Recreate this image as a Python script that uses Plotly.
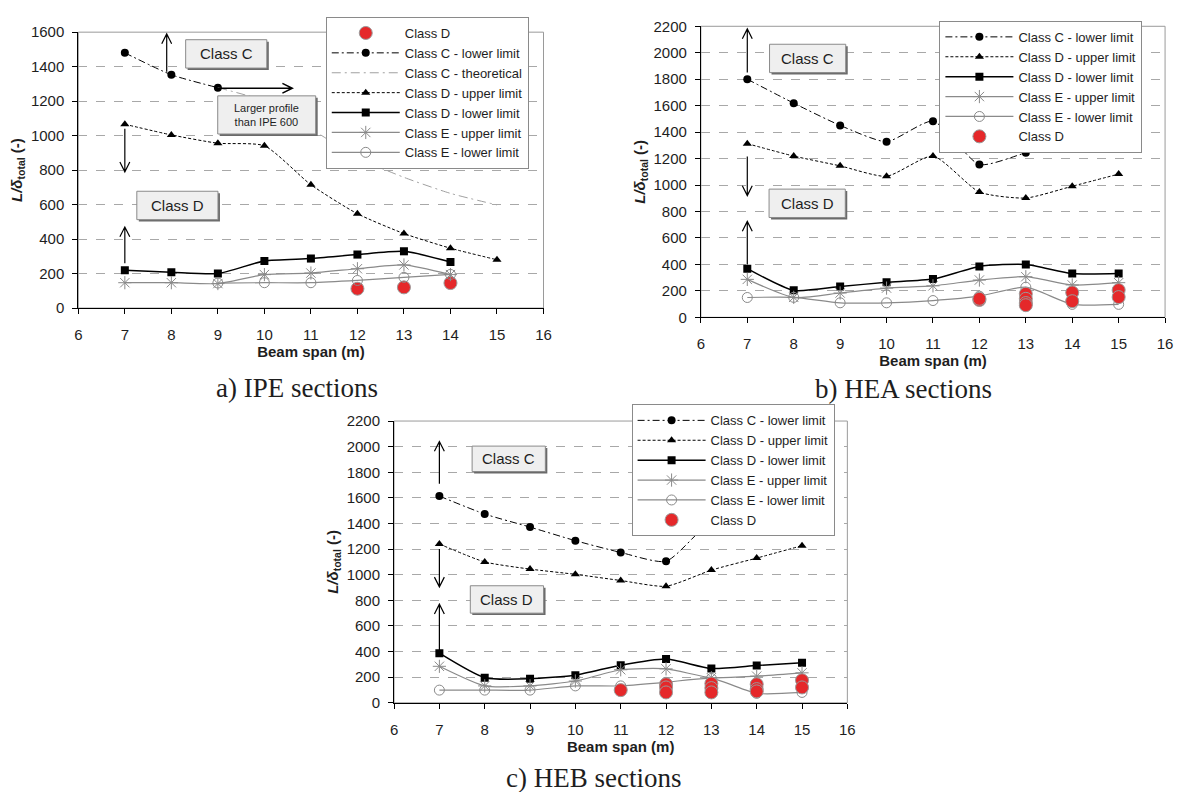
import plotly.graph_objects as go

# ---------------- data ----------------
span = [7, 8, 9, 10, 11, 12, 13, 14, 15]

# a) IPE
ipe_c_lower_x = [7, 8, 9]
ipe_c_lower = [1480, 1353, 1278]
ipe_c_theo_x = [9, 10, 11, 12, 13, 14, 15]
ipe_c_theo = [1278, 1200, 1040, 872, 758, 665, 598]
ipe_d_upper_x = [7, 8, 9, 10, 11, 12, 13, 14, 15]
ipe_d_upper = [1066, 1004, 956, 941, 715, 547, 432, 347, 280]
ipe_d_lower_x = [7, 8, 9, 10, 11, 12, 13, 14]
ipe_d_lower = [219, 208, 200, 273, 287, 310, 329, 267]
ipe_e_upper_x = [7, 8, 9, 10, 11, 12, 13, 14]
ipe_e_upper = [147, 147, 142, 194, 203, 228, 250, 194]
ipe_e_lower_x = [9, 10, 11, 12, 13, 14]
ipe_e_lower = [145, 147, 147, 160, 178, 195]
ipe_d_x = [12, 13, 14]
ipe_d = [112, 120, 145]

# b) HEA
hea_c_lower = [1800, 1619, 1451, 1328, 1483, 1155, 1244, 1342, 1399]
hea_d_upper = [1313, 1219, 1145, 1066, 1219, 947, 902, 991, 1083]
hea_d_lower = [368, 204, 233, 265, 289, 385, 400, 331, 331]
hea_e_upper = [287, 151, 184, 221, 238, 282, 307, 245, 262]
hea_e_lower = [150, 151, 110, 110, 127, 160, 228, 98, 98]
hea_d_x = [12, 12, 13, 13, 13, 13, 14, 14, 15, 15]
hea_d = [131, 140, 178, 140, 108, 92, 188, 122, 206, 153]

# c) HEB
heb_c_lower = [1614, 1474, 1372, 1266, 1174, 1105, 1418, 1520, 1571]
heb_d_upper = [1240, 1100, 1044, 1003, 955, 910, 1036, 1130, 1227]
heb_d_lower = [387, 196, 188, 216, 294, 342, 268, 291, 313]
heb_e_upper = [285, 132, 132, 170, 258, 265, 196, 208, 234]
heb_e_lower = [99, 99, 99, 132, 132, 160, 190, 74, 81]
heb_d_x = [11, 12, 12, 12, 13, 13, 13, 14, 14, 14, 15, 15]
heb_d = [99, 145, 120, 81, 150, 115, 81, 145, 107, 89, 176, 120]

x_ticks = [6, 7, 8, 9, 10, 11, 12, 13, 14, 15, 16]

# ---------------- page geometry ----------------
# The page body has an 8px default margin, so the figure is 16px smaller than the
# window and every reference pixel position is shifted by 8px.
OFF = 8
W, H = 1188 - 2 * OFF, 800 - 2 * OFF

def fx(p):
    return (p - OFF) / W

def fy(p):
    return 1 - (p - OFF) / H

FONT = "Liberation Sans, Arial, sans-serif"
GRAY = "#8a8a8a"
RED = "#e5282a"
TXT = "#1e1e1e"

fig = go.Figure()

def add_series(xa, ya, leg, name, x, y, kind):
    common = dict(x=x, y=y, name=name, xaxis=xa, yaxis=ya, legend=leg,
                  mode="lines+markers")
    if kind == "c_lower":
        fig.add_trace(go.Scatter(**common,
            line=dict(color="black", width=1, dash="7px,3px,2px,3px", shape="spline", smoothing=0.6),
            marker=dict(symbol="circle", size=8, color="black")))
    elif kind == "c_theo":
        common["mode"] = "lines"
        fig.add_trace(go.Scatter(**common,
            line=dict(color="#a0a0a0", width=1, dash="9px,4px,2px,4px", shape="spline", smoothing=0.6)))
    elif kind == "d_upper":
        fig.add_trace(go.Scatter(**common,
            line=dict(color="black", width=1, dash="3px,2px", shape="spline", smoothing=0.6),
            marker=dict(symbol="triangle-up", size=8, color="black")))
    elif kind == "d_lower":
        fig.add_trace(go.Scatter(**common,
            line=dict(color="black", width=1.5, shape="spline", smoothing=0.6),
            marker=dict(symbol="square", size=8, color="black")))
    elif kind == "e_upper":
        fig.add_trace(go.Scatter(**common,
            line=dict(color=GRAY, width=1.2, shape="spline", smoothing=0.6),
            marker=dict(symbol="asterisk-open", size=11, color=GRAY,
                        line=dict(color=GRAY, width=1))))
    elif kind == "e_lower":
        fig.add_trace(go.Scatter(**common,
            line=dict(color=GRAY, width=1.2, shape="spline", smoothing=0.6),
            marker=dict(symbol="circle-open", size=10, color=GRAY,
                        line=dict(color=GRAY, width=1))))
    elif kind == "red":
        common["mode"] = "markers"
        fig.add_trace(go.Scatter(**common,
            marker=dict(symbol="circle", size=13, color=RED,
                        line=dict(color="#9a9a9a", width=1))))

# a) IPE
add_series("x", "y", "legend", "Class D", ipe_d_x, ipe_d, "red")
add_series("x", "y", "legend", "Class C - lower limit", ipe_c_lower_x, ipe_c_lower, "c_lower")
add_series("x", "y", "legend", "Class C - theoretical", ipe_c_theo_x, ipe_c_theo, "c_theo")
add_series("x", "y", "legend", "Class D - upper limit", ipe_d_upper_x, ipe_d_upper, "d_upper")
add_series("x", "y", "legend", "Class D - lower limit", ipe_d_lower_x, ipe_d_lower, "d_lower")
add_series("x", "y", "legend", "Class E - upper limit", ipe_e_upper_x, ipe_e_upper, "e_upper")
add_series("x", "y", "legend", "Class E - lower limit", ipe_e_lower_x, ipe_e_lower, "e_lower")

# b) HEA
add_series("x2", "y2", "legend2", "Class C - lower limit", span, hea_c_lower, "c_lower")
add_series("x2", "y2", "legend2", "Class D - upper limit", span, hea_d_upper, "d_upper")
add_series("x2", "y2", "legend2", "Class D - lower limit", span, hea_d_lower, "d_lower")
add_series("x2", "y2", "legend2", "Class E - upper limit", span, hea_e_upper, "e_upper")
add_series("x2", "y2", "legend2", "Class E - lower limit", span, hea_e_lower, "e_lower")
add_series("x2", "y2", "legend2", "Class D", hea_d_x, hea_d, "red")

# c) HEB
add_series("x3", "y3", "legend3", "Class C - lower limit", span, heb_c_lower, "c_lower")
add_series("x3", "y3", "legend3", "Class D - upper limit", span, heb_d_upper, "d_upper")
add_series("x3", "y3", "legend3", "Class D - lower limit", span, heb_d_lower, "d_lower")
add_series("x3", "y3", "legend3", "Class E - upper limit", span, heb_e_upper, "e_upper")
add_series("x3", "y3", "legend3", "Class E - lower limit", span, heb_e_lower, "e_lower")
add_series("x3", "y3", "legend3", "Class D", heb_d_x, heb_d, "red")

# ---------------- axes layout (reference pixel boxes) ----------------
panels = {
    "a": dict(x0=75, x1=545, top=23.5, bottom=305.5, ymax=1600),
    "b": dict(x0=704, x1=1173, top=17.5, bottom=315, ymax=2200),
    "c": dict(x0=394, x1=852, top=421, bottom=709, ymax=2200),
}
axis_ids = {"a": ("xaxis", "yaxis", "x", "y"),
            "b": ("xaxis2", "yaxis2", "x2", "y2"),
            "c": ("xaxis3", "yaxis3", "x3", "y3")}

ytitle = "<i>L/δ</i><sub>total</sub> (-)"
layout_axes = {}
shapes = []
for k, p in panels.items():
    xa, ya, xr, yr = axis_ids[k]
    layout_axes[xa] = dict(
        domain=[fx(p["x0"]), fx(p["x1"])], anchor=yr, range=[6, 16],
        tickmode="array", tickvals=x_ticks, ticks="outside", ticklen=5,
        tickcolor="black", showline=True, linecolor="black", linewidth=1,
        showgrid=False, zeroline=False, ticklabelstandoff=8,
        tickfont=dict(family=FONT, size=15, color=TXT),
        title=dict(text="Beam span (m)", standoff=2,
                   font=dict(family=FONT, size=15, color=TXT, weight="bold")))
    layout_axes[ya] = dict(
        domain=[fy(p["bottom"]), fy(p["top"])], anchor=xr,
        range=[0, p["ymax"]], dtick=200, ticks="outside", ticklen=5,
        tickcolor="black", showline=True, linecolor="black", linewidth=1,
        showgrid=True, gridcolor="#a8a8a8", griddash="dash", gridwidth=1,
        zeroline=False, ticklabelstandoff=5,
        tickfont=dict(family=FONT, size=15, color=TXT),
        title=dict(text=ytitle, standoff=4,
                   font=dict(family=FONT, size=15, color=TXT, weight="bold")))
    shapes.append(dict(type="rect", xref=f"{xr} domain", yref=f"{yr} domain",
                       x0=0, x1=1, y0=0, y1=1, line=dict(color="#9a9a9a", width=1),
                       layer="below"))

def px_per(k):
    p = panels[k]
    return (p["x1"] - p["x0"]) / 10.0, (p["bottom"] - p["top"]) / p["ymax"]

# ---------------- labelled boxes (with drop shadow) ----------------
annotations = []
def box(k, xc, yc, w, h, text, size=15):
    xr, yr = axis_ids[k][2], axis_ids[k][3]
    sx, sy = px_per(k)
    dx, dy = w / 2 / sx, h / 2 / sy
    ox, oy = 2 / sx, 2 / sy
    shapes.append(dict(type="rect", xref=xr, yref=yr,
                       x0=xc - dx + ox, x1=xc + dx + ox, y0=yc - dy - oy, y1=yc + dy - oy,
                       fillcolor="#6a6a6a", line=dict(width=0)))
    shapes.append(dict(type="rect", xref=xr, yref=yr,
                       x0=xc - dx, x1=xc + dx, y0=yc - dy, y1=yc + dy,
                       fillcolor="#efefef", line=dict(color="#8a8a8a", width=1)))
    annotations.append(dict(xref=xr, yref=yr, x=xc, y=yc, text=text, showarrow=False,
                            xanchor="center", yanchor="middle",
                            font=dict(family=FONT, size=size, color=TXT)))

box("a", 9.18, 1474, 82, 29, "Class C")
box("a", 8.13, 595, 82, 29, "Class D")
box("a", 10.05, 1120, 99, 39, "Larger profile<br>than IPE 600", size=11)
box("b", 8.30, 1957, 77, 29, "Class C")
box("b", 8.29, 862, 77, 29, "Class D")
box("c", 8.53, 1905, 74, 26, "Class C")
box("c", 8.49, 807, 74, 28, "Class D")

# ---------------- arrows ----------------
def v_arrow(k, x, y0, y1):
    xr, yr = axis_ids[k][2], axis_ids[k][3]
    sx, sy = px_per(k)
    d = 1 if y1 > y0 else -1
    hl = 10 / sy
    hw = 5 / sx
    path = (f"M {x},{y0} L {x},{y1} "
            f"M {x - hw},{y1 - d * hl} L {x},{y1} L {x + hw},{y1 - d * hl}")
    shapes.append(dict(type="path", xref=xr, yref=yr, path=path,
                       line=dict(color="black", width=1.2)))

def h_arrow(k, x0, x1, y):
    xr, yr = axis_ids[k][2], axis_ids[k][3]
    sx, sy = px_per(k)
    hl = 10 / sx
    hw = 5 / sy
    path = (f"M {x0},{y} L {x1},{y} "
            f"M {x1 - hl},{y + hw} L {x1},{y} L {x1 - hl},{y - hw}")
    shapes.append(dict(type="path", xref=xr, yref=yr, path=path,
                       line=dict(color="black", width=1.5)))

v_arrow("a", 7.9, 1370, 1590)
v_arrow("a", 7.0, 1040, 790)
v_arrow("a", 7.0, 260, 470)
h_arrow("a", 9.0, 10.6, 1275)

v_arrow("b", 7.0, 1850, 2180)
v_arrow("b", 7.0, 1215, 920)
v_arrow("b", 7.0, 400, 725)

v_arrow("c", 7.0, 1710, 2040)
v_arrow("c", 7.0, 1200, 905)
v_arrow("c", 7.0, 400, 770)

# captions
CAP = "Liberation Serif, Times New Roman, serif"
for txt, xc, yc in [("a) IPE sections", 296, 387),
                    ("b) HEA sections", 909, 388),
                    ("c) HEB sections", 596, 786)]:
    annotations.append(dict(xref="paper", yref="paper", x=fx(xc), y=fy(yc),
                            text=txt, showarrow=False, xanchor="center", yanchor="middle",
                            font=dict(family=CAP, size=27, color=TXT)))

legend_style = dict(bgcolor="white", bordercolor="#8a8a8a", borderwidth=1,
                    font=dict(family=FONT, size=13, color=TXT),
                    xanchor="left", yanchor="top", tracegroupgap=0,
                    itemwidth=68, traceorder="normal")

fig.update_layout(
    width=W, height=H, autosize=False,
    margin=dict(l=0, r=0, t=0, b=0),
    paper_bgcolor="white", plot_bgcolor="white",
    font=dict(family=FONT, color=TXT),
    legend=dict(**legend_style, x=fx(325), y=fy(8)),
    legend2=dict(**legend_style, x=fx(945), y=fy(12)),
    legend3=dict(**legend_style, x=fx(634), y=fy(404)),
    shapes=shapes,
    annotations=annotations,
    **layout_axes,
)

fig.write_html("out.html")
